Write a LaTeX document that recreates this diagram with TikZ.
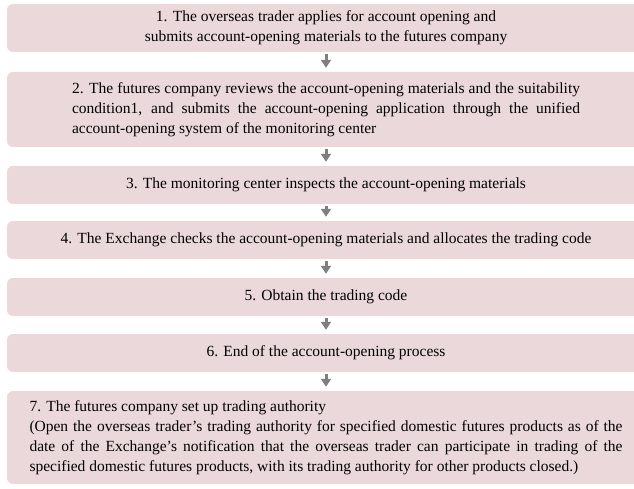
\documentclass[tikz,border=0pt]{standalone}
\usepackage{fontspec}
\setmainfont{Liberation Serif}
\usetikzlibrary{arrows.meta}
\definecolor{boxfill}{HTML}{EBD8DA}
\definecolor{arrowgray}{HTML}{7F7F7F}
\newcommand{\jline}[2]{\makebox[#1][s]{#2}}
\begin{document}
\begin{tikzpicture}[x=1pt,y=-1pt,
  stepbox/.style={fill=boxfill, rounded corners=6pt, minimum width=638pt, inner sep=0pt,
    font=\fontsize{15.5}{20}\selectfont},
  flow/.style={draw=arrowgray, line width=3pt, -{Triangle[width=10pt,length=8pt]}}]
\useasboundingbox (0,0) rectangle (634,489);
\clip (0,0) rectangle (634,489);
\node[stepbox, minimum height=48pt, align=center] (s1) at (326,28)
  {1. The overseas trader applies for account opening and\\submits account-opening materials to the futures company};
\node[stepbox, minimum height=75pt, align=left] (s2) at (326,109.5)
  {\jline{508pt}{2. The futures company reviews the account-opening materials and the suitability}\\
   \jline{508pt}{condition1, and submits the account-opening application through the unified}\\
   account-opening system of the monitoring center\hspace*{\fill}};
\node[stepbox, minimum height=38pt] (s3) at (326,185)
  {3. The monitoring center inspects the account-opening materials};
\node[stepbox, minimum height=38pt] (s4) at (326,240)
  {4. The Exchange checks the account-opening materials and allocates the trading code};
\node[stepbox, minimum height=38pt] (s5) at (326,297)
  {5. Obtain the trading code};
\node[stepbox, minimum height=38pt] (s6) at (326,353)
  {6. End of the account-opening process};
\node[stepbox, minimum height=93pt, align=left] (s7) at (326,437.5)
  {\makebox[593pt][l]{7. The futures company set up trading authority}\\
   \jline{593pt}{(Open the overseas trader’s trading authority for specified domestic futures products as of the}\\
   \jline{593pt}{date of the Exchange’s notification that the overseas trader can participate in trading of the}\\
   \makebox[593pt][l]{specified domestic futures products, with its trading authority for other products closed.)}};
\draw[flow] ([yshift=-1.5pt]s1.south) -- ([yshift=4pt]s2.north);
\draw[flow] ([yshift=-1.5pt]s2.south) -- ([yshift=4pt]s3.north);
\draw[flow] ([yshift=-1.5pt]s3.south) -- ([yshift=4pt]s4.north);
\draw[flow] ([yshift=-1.5pt]s4.south) -- ([yshift=4pt]s5.north);
\draw[flow] ([yshift=-1.5pt]s5.south) -- ([yshift=4pt]s6.north);
\draw[flow] ([yshift=-1.5pt]s6.south) -- ([yshift=4pt]s7.north);
\end{tikzpicture}
\end{document}
